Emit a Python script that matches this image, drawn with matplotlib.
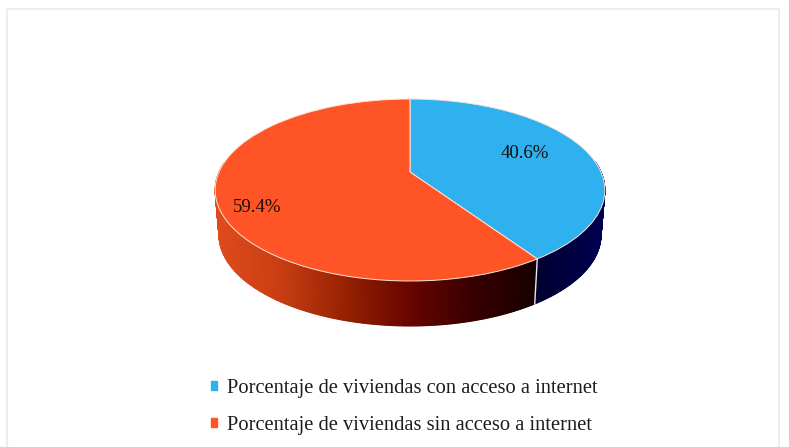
import numpy as np
import matplotlib
matplotlib.use("Agg")
import matplotlib.pyplot as plt
from matplotlib.transforms import Transform
from matplotlib.patches import Rectangle, Patch
from matplotlib.colors import LinearSegmentedColormap

categories = ["Porcentaje de viviendas con acceso a internet",
              "Porcentaje de viviendas sin acceso a internet"]
values = [40.6, 59.4]
colors = ["#2EB1EE", "#FF5526"]

plt.rcParams["font.family"] = ["Liberation Serif", "DejaVu Serif"]

# perspective of the disc, in pixels of the figure
CX, R, TOP, APEX, BOTTOM = 410.0, 191.0, 99.0, 172.0, 281.0
K = (APEX * 2 - TOP - BOTTOM) / (TOP - BOTTOM)
A = TOP * (1 + K) - APEX
DEPTH, SHRINK = 45.0, 0.98


class Tilt(Transform):
    input_dims = output_dims = 2

    def transform_non_affine(self, xy):
        xy = np.asarray(xy, float)
        d = 1 + K * xy[:, 1]
        return np.column_stack([CX + R * xy[:, 0] / d, (A * xy[:, 1] + APEX) / d])


tilt = Tilt()
fig = plt.figure(figsize=(7.89, 4.47), dpi=100, facecolor="white")
ax = fig.add_axes([0, 0, 1, 1])
wedges, _ = ax.pie(values, colors=colors, startangle=90, counterclock=False,
                   wedgeprops=dict(edgecolor="#FBE3D8", linewidth=0.7, zorder=3))
ax.set_aspect("auto")
ax.set_xlim(0, 789)
ax.set_ylim(447, 0)
ax.axis("off")
for w in wedges:
    w.set_transform(tilt + ax.transData)

ax.add_patch(Rectangle((7.5, 8.5), 772, 460, fill=False, ec="#EDEDED", lw=1.6, zorder=0))

red_wall = LinearSegmentedColormap.from_list(
    "r", [(0, "#E04C1E"), (0.2, "#C93E12"), (0.45, "#8C1C00"),
          (0.62, "#650400"), (0.8, "#3A0000"), (1, "#180000")])
blue_wall = LinearSegmentedColormap.from_list(
    "b", [(0, "#000030"), (1, "#000052")])


def wall(t1, t2, cmap, x0, x1):
    """Side of the disc between two pie angles (degrees, as the wedges report them)."""
    a = np.radians(np.linspace(t1, t2, 400))
    a = a[np.sin(a) <= 0.12]  # only the front part of the rim shows
    pts = tilt.transform_non_affine(np.column_stack([np.cos(a), np.sin(a)]))
    lowx = CX + SHRINK * (pts[:, 0] - CX)
    lowy = pts[:, 1] + DEPTH
    X = np.vstack([pts[:, 0], lowx])
    Y = np.vstack([pts[:, 1], lowy])
    C = np.clip((X - x0) / (x1 - x0), 0, 1)
    ax.pcolormesh(X, Y, C, shading="gouraud", cmap=cmap, vmin=0, vmax=1, zorder=1)
    return a, pts, lowx, lowy


# angles come from the wedges built out of the values
w_blue, w_red = wedges
wall(w_blue.theta1, w_blue.theta2, blue_wall, 535, 605)
a, pts, lowx, lowy = wall(w_red.theta1, w_red.theta2, red_wall, 216, 535)
j = np.argmin(np.abs(a - np.radians(w_red.theta2)))
ax.plot([pts[j, 0], lowx[j]], [pts[j, 1], lowy[j]], color="#E8E8EE", lw=1.0, zorder=2)

label_xy = [(525, 153), (257, 207)]
for v, (x, y) in zip(values, label_xy):
    ax.text(x, y, f"{v:.1f}%", ha="center", va="center", fontsize=13.5,
            color="#1A0A05", zorder=4)

handles = [Patch(color=c) for c in colors]
ax.legend(handles, categories, loc="center", bbox_to_anchor=(0.5125, 0.0895),
          frameon=False, fontsize=14.75, handlelength=0.32, handleheight=0.32,
          handletextpad=0.5, labelspacing=0.87, labelcolor="#1c1c1c")

fig.savefig("out.png", dpi=100, facecolor="white")
